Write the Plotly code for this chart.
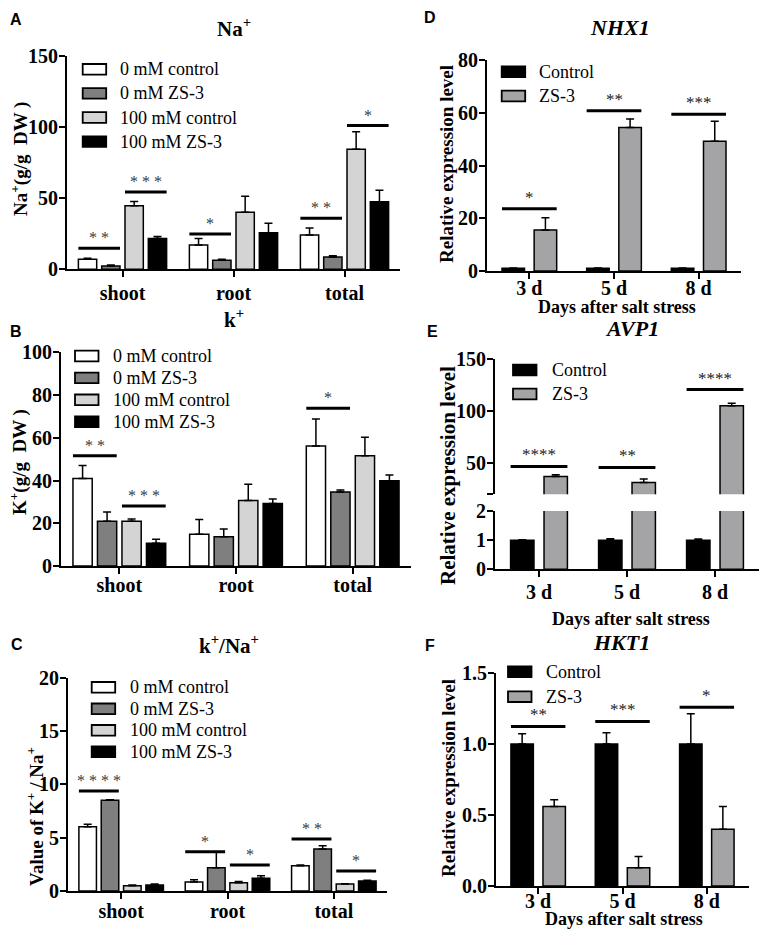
import plotly.graph_objects as go

W, H = 767, 931
SERIF = "Liberation Serif"
SANS = "Liberation Sans"

# ---------------- data ----------------
tissues = ["shoot", "root", "total"]
days = ["3 d", "5 d", "8 d"]
ion_groups = ["0 mM control", "0 mM ZS-3", "100 mM control", "100 mM ZS-3"]
gene_groups = ["Control", "ZS-3"]

# Panel A: Na+ (g/g DW)
na_0mM_control = [7.0, 17.0, 24.0]
na_0mM_zs3 = [2.4, 6.4, 8.7]
na_100mM_control = [44.6, 40.0, 84.3]
na_100mM_zs3 = [21.7, 25.7, 47.5]
na_0mM_control_err = [0.8, 4.7, 5.0]
na_0mM_zs3_err = [0.6, 0.6, 0.8]
na_100mM_control_err = [3.1, 11.3, 12.3]
na_100mM_zs3_err = [1.3, 6.7, 8.0]

# Panel B: K+ (g/g DW)
k_0mM_control = [41.0, 14.8, 56.2]
k_0mM_zs3 = [20.9, 13.7, 34.6]
k_100mM_control = [20.9, 30.6, 51.6]
k_100mM_zs3 = [10.6, 29.3, 39.9]
k_0mM_control_err = [6.0, 7.0, 12.6]
k_0mM_zs3_err = [4.4, 3.6, 1.0]
k_100mM_control_err = [1.1, 7.6, 8.6]
k_100mM_zs3_err = [1.9, 2.1, 2.7]

# Panel C: K+/Na+
ratio_0mM_control = [6.03, 0.84, 2.37]
ratio_0mM_zs3 = [8.5, 2.19, 3.94]
ratio_100mM_control = [0.5, 0.78, 0.66]
ratio_100mM_zs3 = [0.56, 1.19, 0.94]
ratio_0mM_control_err = [0.22, 0.22, 0.07]
ratio_0mM_zs3_err = [0.06, 1.5, 0.31]
ratio_100mM_control_err = [0.06, 0.12, 0.03]
ratio_100mM_zs3_err = [0.09, 0.25, 0.06]

# Panel D: NHX1
nhx1_control = [1.0, 1.0, 1.0]
nhx1_zs3 = [15.5, 54.4, 49.2]
nhx1_control_err = [0.1, 0.1, 0.1]
nhx1_zs3_err = [4.7, 3.2, 7.6]

# Panel E: AVP1
avp1_control = [1.0, 1.0, 1.0]
avp1_zs3 = [37.2, 31.4, 105.0]
avp1_control_err = [0.01, 0.05, 0.04]
avp1_zs3_err = [1.6, 3.2, 2.5]

# Panel F: HKT1
hkt1_control = [1.0, 1.0, 1.0]
hkt1_zs3 = [0.56, 0.129, 0.40]
hkt1_control_err = [0.072, 0.08, 0.213]
hkt1_zs3_err = [0.047, 0.078, 0.16]

# significance: (category index, first bar, last bar, bracket height, label)
sig_na = [(0, 0, 1, 14.8, "* *"), (0, 2, 3, 54.3, "* * *"), (1, 0, 1, 24.8, "*"),
          (2, 0, 1, 35.9, "* *"), (2, 2, 3, 100.9, "*")]
sig_k = [(0, 0, 1, 51.6, "* *"), (0, 2, 3, 28.1, "* * *"), (2, 0, 1, 73.8, "*")]
sig_ratio = [(0, 0, 1, 9.375, "* * * *"), (1, 0, 1, 3.69, "*"), (1, 2, 3, 2.44, "*"),
             (2, 0, 1, 4.875, "* *"), (2, 2, 3, 1.875, "*")]
sig_nhx1 = [(0, 0, 1, 23.6, "*"), (1, 0, 1, 60.8, "**"), (2, 0, 1, 59.4, "***")]
sig_avp1 = [(0, 0, 1, 46.8, "****"), (1, 0, 1, 45.8, "**"), (2, 0, 1, 120.6, "****")]
sig_hkt1 = [(0, 0, 1, 1.124, "**"), (1, 0, 1, 1.159, "***"), (2, 0, 1, 1.258, "*")]

# tick values
na_ticks = [0, 50, 100, 150]
k_ticks = [0, 20, 40, 60, 80, 100]
ratio_ticks = [0, 5, 10, 15, 20]
nhx1_ticks = [0, 20, 40, 60, 80]
avp1_upper_ticks = [20, 50, 100, 150]
avp1_upper_ticktext = ["", "50", "100", "150"]
avp1_lower_ticks = [0, 1, 2]
hkt1_ticks = [0, 0.5, 1.0, 1.5]

# ---------------- styling ----------------
ion_colors = ["#ffffff", "#7f7f7f", "#d4d4d4", "#000000"]
gene_colors = ["#000000", "#a4a4a6"]
ION_W = 0.165
ION_OFF = [-0.3975, -0.1875, 0.0225, 0.2325]
GENE_W = 0.266
GENE_OFF = [-0.323, 0.057]

TICK_FONT = dict(family=SERIF, size=20, color="black", weight="bold")


def px(v):
    return v / W


def py(v):
    return 1 - v / H


fig = go.Figure()


def ax_names(n):
    s = "" if n == 1 else str(n)
    return "xaxis" + s, "yaxis" + s, "x" + s, "y" + s


def set_axes(n, xbox, ybox, cats, yrange, tickvals, ticktext=None, show_x=True,
             tickformat=None, xstandoff=0, ystandoff=-3):
    xname, yname, xid, yid = ax_names(n)
    fig.update_layout(**{
        xname: dict(domain=[px(xbox[0]), px(xbox[1])], anchor=yid, type="category",
                    categoryorder="array", categoryarray=cats, range=[-0.5, 2.5],
                    showline=show_x, linecolor="black", linewidth=2,
                    ticks="outside" if show_x else "", ticklen=6, tickwidth=2,
                    tickcolor="black", showticklabels=show_x, tickfont=TICK_FONT,
                    ticklabelstandoff=xstandoff,
                    showgrid=False, zeroline=False, fixedrange=True, automargin=False),
        yname: dict(domain=[py(ybox[1]), py(ybox[0])], anchor=xid, range=yrange,
                    tickmode="array", tickvals=tickvals,
                    ticktext=ticktext if ticktext is not None else None,
                    tickformat=tickformat, ticklabelstandoff=ystandoff,
                    showline=True, linecolor="black", linewidth=2, ticks="outside",
                    ticklen=6, tickwidth=2, tickcolor="black", tickfont=TICK_FONT,
                    showgrid=False, zeroline=False, fixedrange=True, automargin=False),
    })
    return xid, yid


def add_bars(xid, yid, cats, series, errs, names, colors, offsets, width):
    for vals, err, name, col, off in zip(series, errs, names, colors, offsets):
        fig.add_trace(go.Bar(
            x=cats, y=vals, name=name, xaxis=xid, yaxis=yid, width=width, offset=off,
            marker=dict(color=col, line=dict(color="black", width=1.5)),
            error_y=dict(type="data", array=err, arrayminus=[0] * len(err),
                         symmetric=False, color="black", thickness=1.5, width=4),
            showlegend=False))


def add_sig(xid, yid, sigs, offsets, width, font_size=16, color="#3a3a3a"):
    for cat, i, j, yv, label in sigs:
        x0 = cat + offsets[i]
        x1 = cat + offsets[j] + width
        fig.add_shape(type="line", xref=xid, yref=yid, x0=x0, x1=x1, y0=yv, y1=yv,
                      line=dict(color="black", width=3))
        fig.add_annotation(xref=xid, yref=yid, x=(x0 + x1) / 2, y=yv, text=label,
                           showarrow=False, yanchor="bottom", yshift=0,
                           font=dict(family=SERIF, size=font_size, color=color))


def add_legend(names, colors, box_left, row0, spacing, text_x, size=18):
    for k, (name, col) in enumerate(zip(names, colors)):
        yc = row0 + k * spacing
        fig.add_shape(type="rect", xref="paper", yref="paper",
                      x0=px(box_left), x1=px(box_left + 23.5),
                      y0=py(yc + 5.3), y1=py(yc - 5.3),
                      fillcolor=col, line=dict(color="black", width=1.8))
        fig.add_annotation(xref="paper", yref="paper", x=px(text_x), y=py(yc),
                           text=name, showarrow=False, xanchor="left", yanchor="middle",
                           font=dict(family=SERIF, size=size, color="black"))


def add_text(x, y, text, size, family=SERIF, angle=0, weight="bold"):
    fig.add_annotation(xref="paper", yref="paper", x=px(x), y=py(y), text=text,
                       showarrow=False, xanchor="center", yanchor="middle",
                       textangle=angle,
                       font=dict(family=family, size=size, color="black", weight=weight))


# ---------------- Panel A ----------------
xa, ya = set_axes(1, (67, 400), (55.7, 269.3), tissues, [0, 150], na_ticks, xstandoff=-1)
add_bars(xa, ya, tissues,
         [na_0mM_control, na_0mM_zs3, na_100mM_control, na_100mM_zs3],
         [na_0mM_control_err, na_0mM_zs3_err, na_100mM_control_err, na_100mM_zs3_err],
         ion_groups, ion_colors, ION_OFF, ION_W)
add_sig(xa, ya, sig_na, ION_OFF, ION_W)
add_legend(ion_groups, ion_colors, 82.7, 69.3, 24.1, 118)

# ---------------- Panel B ----------------
xa, ya = set_axes(2, (61, 411), (352.3, 566), tissues, [0, 100], k_ticks, xstandoff=-6)
add_bars(xa, ya, tissues,
         [k_0mM_control, k_0mM_zs3, k_100mM_control, k_100mM_zs3],
         [k_0mM_control_err, k_0mM_zs3_err, k_100mM_control_err, k_100mM_zs3_err],
         ion_groups, ion_colors, ION_OFF, ION_W)
add_sig(xa, ya, sig_k, ION_OFF, ION_W)
add_legend(ion_groups, ion_colors, 75, 356, 21.9, 111)

# ---------------- Panel C ----------------
xa, ya = set_axes(3, (68, 387), (677.7, 891), tissues, [0, 20], ratio_ticks, xstandoff=-5)
add_bars(xa, ya, tissues,
         [ratio_0mM_control, ratio_0mM_zs3, ratio_100mM_control, ratio_100mM_zs3],
         [ratio_0mM_control_err, ratio_0mM_zs3_err, ratio_100mM_control_err,
          ratio_100mM_zs3_err],
         ion_groups, ion_colors, ION_OFF, ION_W)
add_sig(xa, ya, sig_ratio, ION_OFF, ION_W)
add_legend(ion_groups, ion_colors, 91.7, 687.3, 21.5, 128.3)

# ---------------- Panel D ----------------
xa, ya = set_axes(4, (487, 741), (60, 271), days, [0, 80], nhx1_ticks, xstandoff=-8)
add_bars(xa, ya, days, [nhx1_control, nhx1_zs3], [nhx1_control_err, nhx1_zs3_err],
         gene_groups, gene_colors, GENE_OFF, GENE_W)
add_sig(xa, ya, sig_nhx1, GENE_OFF, GENE_W, font_size=17, color="#222222")
add_legend(gene_groups, gene_colors, 501.7, 71.7, 24.3, 536.7)

# ---------------- Panel E (broken axis) ----------------
xa, ya = set_axes(5, (495, 759), (359, 494.3), days, [20, 150], avp1_upper_ticks,
                  ticktext=avp1_upper_ticktext, show_x=False)
add_bars(xa, ya, days, [avp1_zs3], [avp1_zs3_err], gene_groups[1:], gene_colors[1:],
         GENE_OFF[1:], GENE_W)
add_sig(xa, ya, sig_avp1, GENE_OFF, GENE_W, font_size=17, color="#222222")
xa, ya = set_axes(6, (495, 759), (511, 569.3), days, [0, 2], avp1_lower_ticks,
                  xstandoff=-2)
add_bars(xa, ya, days, [avp1_control, avp1_zs3], [avp1_control_err, avp1_zs3_err],
         gene_groups, gene_colors, GENE_OFF, GENE_W)
add_legend(gene_groups, gene_colors, 513, 370, 24, 550)

# ---------------- Panel F ----------------
xa, ya = set_axes(7, (496, 749), (673, 886), days, [0, 1.5], hkt1_ticks,
                  tickformat=".1f", xstandoff=-10)
add_bars(xa, ya, days, [hkt1_control, hkt1_zs3], [hkt1_control_err, hkt1_zs3_err],
         gene_groups, gene_colors, GENE_OFF, GENE_W)
add_sig(xa, ya, sig_hkt1, GENE_OFF, GENE_W, font_size=17, color="#222222")
add_legend(gene_groups, gene_colors, 508, 671.7, 25, 544)

# ---------------- titles & labels ----------------
add_text(234, 27, "Na<sup>+</sup>", 21)
add_text(234, 318, "k<sup>+</sup>", 21)
add_text(229, 644, "k<sup>+</sup>/Na<sup>+</sup>", 21)
add_text(620, 27, "<i>NHX1</i>", 22)
add_text(632, 329, "<i>AVP1</i>", 22)
add_text(621, 642, "<i>HKT1</i>", 22)

add_text(16, 20, "A", 16, family=SANS)
add_text(16, 331, "B", 16, family=SANS)
add_text(17, 644, "C", 16, family=SANS)
add_text(430, 18, "D", 16, family=SANS)
add_text(432, 332, "E", 16, family=SANS)
add_text(430, 645, "F", 16, family=SANS)

add_text(19, 159, "Na<sup>+</sup>(g/g  DW )", 19, angle=-90)
add_text(18, 462, "K<sup>+</sup>(g/g  DW )", 19, angle=-90)
add_text(35, 817, "Value of K<sup>+</sup> / Na<sup>+</sup>", 19, angle=-90)
add_text(446, 164, "Relative expression level", 19, angle=-90)
add_text(448, 475, "Relative expression level", 21, angle=-90)
add_text(448, 778, "Relative expression level", 19, angle=-90)

add_text(617, 307, "Days after salt stress", 18)
add_text(631, 619, "Days after salt stress", 18)
add_text(624, 919, "Days after salt stress", 18)

fig.update_layout(width=W, height=H,
                  margin=dict(l=0, r=0, t=0, b=0, pad=0, autoexpand=False),
                  paper_bgcolor="white", plot_bgcolor="white", showlegend=False,
                  barmode="group")

fig.write_html("out.html", config={"displayModeBar": False},
               post_script="document.body.style.margin='0px';")
